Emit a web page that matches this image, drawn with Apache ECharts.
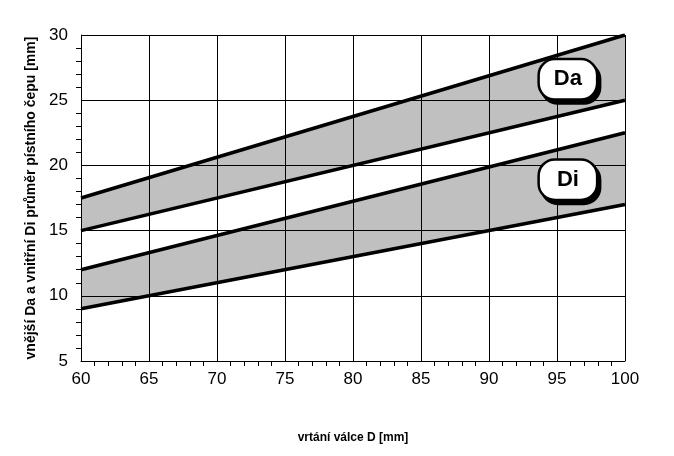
<!DOCTYPE html>
<html><head><meta charset="utf-8">
<script src="https://cdn.jsdelivr.net/npm/echarts@6/dist/echarts.min.js"></script>
<style>html,body{margin:0;padding:0;background:#fff}#c{width:674px;height:456px}</style>
</head><body><div id="c"></div>
<script>
const xEnds = [60, 100];
const daUpper = [17.5, 30];
const daLower = [15, 25];
const diUpper = [12, 22.5];
const diLower = [9, 17];
const labelDa = {name: 'Da', coord: [95.8, 26.6]};
const labelDi = {name: 'Di', coord: [95.8, 18.9]};
const xTitle = 'vrtání válce D [mm]';
const yTitle = 'vnější Da a vnitřní Di průměr pístního čepu [mm]';

const pairs = v => xEnds.map((x, i) => [x, v[i]]);
const lineStyle = {color: '#000', width: 3.5};
const labelStyle = {
  show: true, formatter: '{b}', color: '#000', fontFamily: 'Liberation Sans, Arial',
  fontWeight: 'bold', fontSize: 22, backgroundColor: '#fff', borderColor: '#000', borderWidth: 2.5,
  borderRadius: 15, width: 42, height: 26, align: 'center', verticalAlign: 'middle',
  padding: [6, 7], shadowColor: '#000', shadowOffsetX: 3, shadowOffsetY: 4, shadowBlur: 0
};
function edge(v, fill, mark) {
  const s = {type: 'line', data: pairs(v), symbol: 'none', lineStyle, z: 2, animation: false,
    areaStyle: {color: fill, opacity: 1, origin: 'start'}};
  if (mark) s.markPoint = {symbol: 'rect', symbolSize: 0, label: labelStyle, data: [mark], animation: false, z: 5};
  return s;
}
const chart = echarts.init(document.getElementById('c'));
const axisFont = {fontFamily: 'Liberation Sans, Arial', fontSize: 17, color: '#000', letterSpacing: -1};
chart.setOption({
  animation: false,
  grid: {left: 81, right: 49, top: 35, bottom: 95},
  xAxis: {
    type: 'value', min: 60, max: 100, interval: 5, z: 3,
    name: xTitle, nameLocation: 'middle', nameGap: 71,
    nameTextStyle: {fontFamily: 'Liberation Sans, Arial', fontWeight: 'bold', fontSize: 12, color: '#000', letterSpacing: -0.5},
    axisLine: {lineStyle: {color: '#000', width: 1}},
    axisTick: {show: false},
    minorTick: {show: true, splitNumber: 5, length: 5, lineStyle: {color: '#000'}},
    splitLine: {show: true, lineStyle: {color: '#000', width: 1}},
    axisLabel: Object.assign({margin: 10}, axisFont)
  },
  yAxis: {
    type: 'value', min: 5, max: 30, interval: 5, z: 3,
    name: yTitle, nameLocation: 'middle', nameGap: 40, nameRotate: 90,
    nameTextStyle: {fontFamily: 'Liberation Sans, Arial', fontWeight: 'bold', fontSize: 14, color: '#000'},
    axisLine: {show: true, lineStyle: {color: '#000', width: 1}},
    axisTick: {show: false},
    minorTick: {show: true, splitNumber: 5, length: 5, lineStyle: {color: '#000'}},
    splitLine: {show: true, lineStyle: {color: '#000', width: 1}},
    axisLabel: Object.assign({margin: 13}, axisFont)
  },
  series: [
    edge(daUpper, '#c0c0c0', labelDa),
    edge(daLower, '#ffffff'),
    edge(diUpper, '#c0c0c0', labelDi),
    edge(diLower, '#ffffff')
  ]
});
</script></body></html>
